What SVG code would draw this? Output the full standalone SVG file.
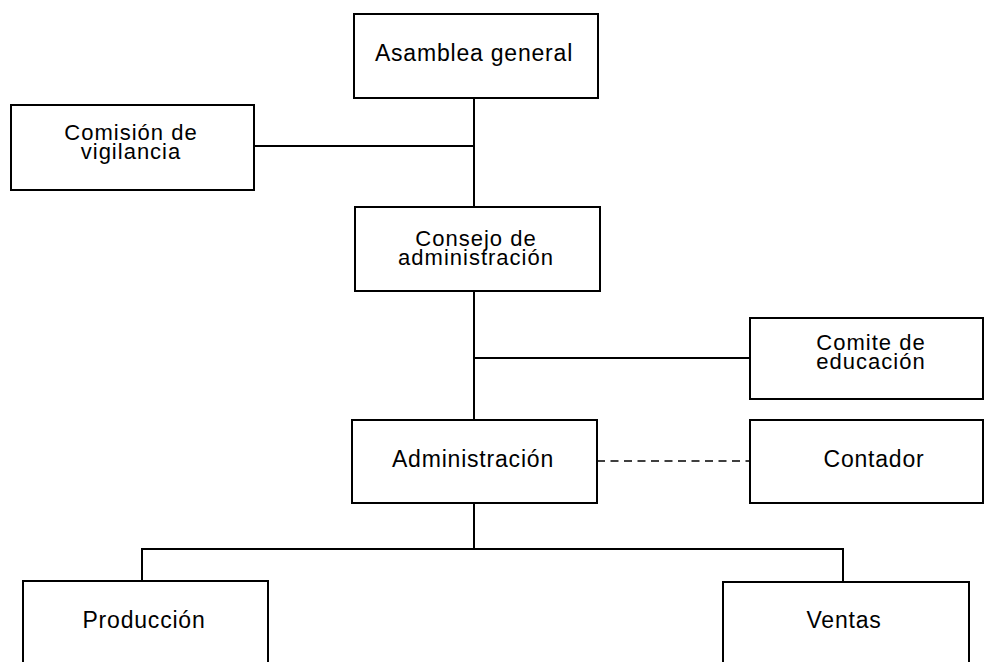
<svg xmlns="http://www.w3.org/2000/svg" width="985" height="662" viewBox="0 0 985 662">
<style>
.box{fill:#fff;stroke:#000;stroke-width:2}
.ln{fill:none;stroke:#000;stroke-width:2}
.dash{fill:none;stroke:#000;stroke-width:1.5;stroke-dasharray:8 5.5}
text{font-family:"Liberation Sans",Arial,sans-serif;font-size:23px;letter-spacing:0.8px;fill:#000;text-anchor:middle}
text.two{font-size:22px;letter-spacing:1px}
</style>
<rect width="985" height="662" fill="#fff"/>
<g id="connectors">
<path class="ln" d="M474 98V207M474 291V420M474 503V549M254 146H474M474 358H750M142 581V549H843V582"/>
<path class="dash" d="M597 461H750"/>
</g>
<g id="asamblea"><rect class="box" x="354" y="14" width="244" height="84"/><text x="474" y="61">Asamblea general</text></g>
<g id="comision"><rect class="box" x="11" y="105" width="243" height="85"/><text class="two" x="131" y="140">Comisión de</text><text class="two" x="131" y="159">vigilancia</text></g>
<g id="consejo"><rect class="box" x="355" y="207" width="245" height="84"/><text class="two" x="476" y="246">Consejo de</text><text class="two" x="476" y="265">administración</text></g>
<g id="comite"><rect class="box" x="750" y="318" width="233" height="81"/><text class="two" x="871" y="350">Comite de</text><text class="two" x="871" y="369">educación</text></g>
<g id="administracion"><rect class="box" x="352" y="420" width="245" height="83"/><text x="473" y="467">Administración</text></g>
<g id="contador"><rect class="box" x="750" y="420" width="233" height="83"/><text x="874" y="467">Contador</text></g>
<g id="produccion"><rect class="box" x="23" y="581" width="245" height="90"/><text x="144" y="628">Producción</text></g>
<g id="ventas"><rect class="box" x="723" y="582" width="246" height="90"/><text x="844" y="628">Ventas</text></g>
</svg>
